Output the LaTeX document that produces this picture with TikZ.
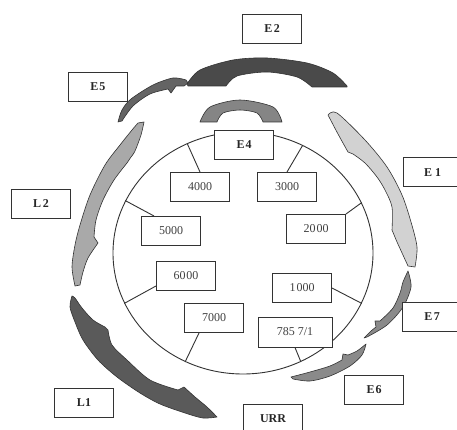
\documentclass[tikz,border=0pt]{standalone}
\usepackage{fontspec}
\setmainfont{Liberation Serif}
\usetikzlibrary{shapes.geometric}
\definecolor{edge}{HTML}{333333}
\definecolor{cE2}{HTML}{4A4A4A}
\definecolor{cE5}{HTML}{646464}
\definecolor{cE4}{HTML}{858585}
\definecolor{cE1}{HTML}{D2D2D2}
\definecolor{cL2}{HTML}{A9A9A9}
\definecolor{cL1}{HTML}{5A5A5A}
\definecolor{cE7}{HTML}{8A8A8A}
\definecolor{cE6}{HTML}{8A8A8A}
\begin{document}
\begin{tikzpicture}[x=1pt,y=-1pt,
  box/.style={draw=edge, line width=1pt, fill=white, minimum width=59pt, minimum height=29pt, inner sep=0pt, font=\fontsize{12}{14}\selectfont\bfseries, text=black!85},
  numbox/.style={box, font=\fontsize{12}{14}\selectfont, text=black!75},
  spoke/.style={draw=edge, line width=0.9pt},
  band/.style={draw=edge, line width=0.6pt, line join=round}]
\fill[white] (0,0) rectangle (457,430);
\useasboundingbox (0,0) rectangle (457,430);

% outer bands
\filldraw[band, fill=cE2] plot[smooth] coordinates {(187,84) (200,70) (233,60) (267,58) (307,63) (333,73) (347,86)}
  -- (347,87) -- (312,87) -- plot[smooth] coordinates {(312,87) (297,77) (267,72) (237,76) (226,86)} -- (188,86) -- cycle;
\filldraw[band, fill=cE5] plot[smooth] coordinates {(118,122) (122,110) (131,99) (153,85) (173,78) (186,80)}
  -- (188,83) -- (184,86) -- (176,86) -- (171,93) -- (168,89)
  -- plot[smooth] coordinates {(168,89) (150,94) (133,106) (122,121)} -- cycle;
\filldraw[band, fill=cE4] plot[smooth] coordinates {(200,122) (210,107) (240,100) (273,107) (282,122)}
  -- (263,122) -- plot[smooth] coordinates {(263,122) (257,113) (240,110) (223,113) (217,122)} -- cycle;
\filldraw[band, fill=cE1] plot[smooth] coordinates {(328,115) (337,113) (365,140) (387,167) (402,195) (411,222) (417,247) (415,267)}
  -- (408,266) -- (397,242) -- (392,230)
  -- plot[smooth] coordinates {(392,230) (392,207) (385,190) (377,177) (365,163) (353,154)}
  -- (348,152) -- plot[smooth] coordinates {(348,152) (338,134) (328,115)} -- cycle;
\filldraw[band, fill=cE7] plot[smooth] coordinates {(408,271) (411,287) (403,307) (387,325) (367,337)}
  -- (364,338) -- plot[smooth] coordinates {(364,338) (371,331) (376,327)} -- (375,321) -- (380,321)
  -- plot[smooth] coordinates {(380,321) (393,308) (400,293) (403,282) (408,271)} -- cycle;
\filldraw[band, fill=cE6] plot[smooth] coordinates {(366,344) (362,355) (350,366) (330,376) (310,381) (293,379)}
  -- (291,377) -- plot[smooth] coordinates {(291,377) (310,372) (330,366) (342,360)} -- (343,354) -- (348,355)
  -- plot[smooth] coordinates {(348,355) (357,351) (366,344)} -- cycle;
\filldraw[band, fill=cL1] plot[smooth] coordinates {(72,296) (70,307) (75,322) (83,340) (98,360) (117,377) (140,393) (160,404) (185,413) (203,418) (217,417)}
  -- plot[smooth] coordinates {(217,417) (207,407) (195,397) (184,387)} -- (178,390)
  -- plot[smooth] coordinates {(178,390) (150,380) (127,360) (112,345) (108,330)} -- (105,327)
  -- plot[smooth] coordinates {(105,327) (93,320) (82,308) (75,298) (72,296)} -- cycle;
\filldraw[band, fill=cL2] plot[smooth] coordinates {(144,122) (141,135) (135,151) (131,157)} -- (127,163)
  -- plot[smooth] coordinates {(127,163) (114,180) (103,200) (96,220) (94,237)} -- (98,243)
  -- plot[smooth] coordinates {(98,243) (88,258) (83,272) (80,285)} -- (75,286)
  -- plot[smooth] coordinates {(75,286) (72,267) (75,245) (80,225) (90,195) (105,165) (120,145) (132,130) (138,123)} -- cycle;

% ring
\node[ellipse, draw=edge, line width=0.9pt, minimum width=260pt, minimum height=242pt, inner sep=0pt] (ring) at (243,253) {};

% boxes
\node[box] (e2) at (272,29) {E\kern1.5pt2};
\node[box] (e5) at (98,87) {E\kern1pt5};
\node[box] (e4) at (244,145) {E\kern1pt4};
\node[numbox] (n4) at (200,187) {4000};
\node[numbox] (n3) at (287,187) {3000};
\node[box] (e1) at (432.5,172.5) {E\kern3pt1};
\node[box] (l2) at (41,204) {L\kern1.5pt2};
\node[numbox] (n5) at (171,231) {5000};
\node[numbox] (n2) at (316,229) {20\kern1pt00};
\node[numbox] (n6) at (186,276) {60\kern1pt00};
\node[numbox] (n1) at (302,288) {1\kern1pt000};
\node[numbox] (n7) at (214,318) {7000};
\node[numbox, minimum width=74pt, minimum height=30pt] (n785) at (295,332) {785 7/1};
\node[box] (e6) at (374,390) {E\kern1pt6};
\node[box] (l1) at (84,403) {L1};
\node[box] (urr) at (273,419) {URR};
\node[box] (e7) at (432,317) {E\kern1.5pt7};

% spokes
\draw[spoke] (ring.117.6) -- (n4.north);
\draw[spoke] (ring.61.6) -- (n3.north);
\draw[spoke] (ring.156.2) -- ([xshift=13pt]n5.north west);
\draw[spoke] (ring.23.6) -- (n2.north east);
\draw[spoke] (ring.203.5) -- ([yshift=5pt]n6.south west);
\draw[spoke] (ring.337.1) -- (n1.east);
\draw[spoke] (ring.242.4) -- ([xshift=15pt]n7.south west);
\draw[spoke] (ring.298.8) -- (n785.south);
\end{tikzpicture}
\end{document}
